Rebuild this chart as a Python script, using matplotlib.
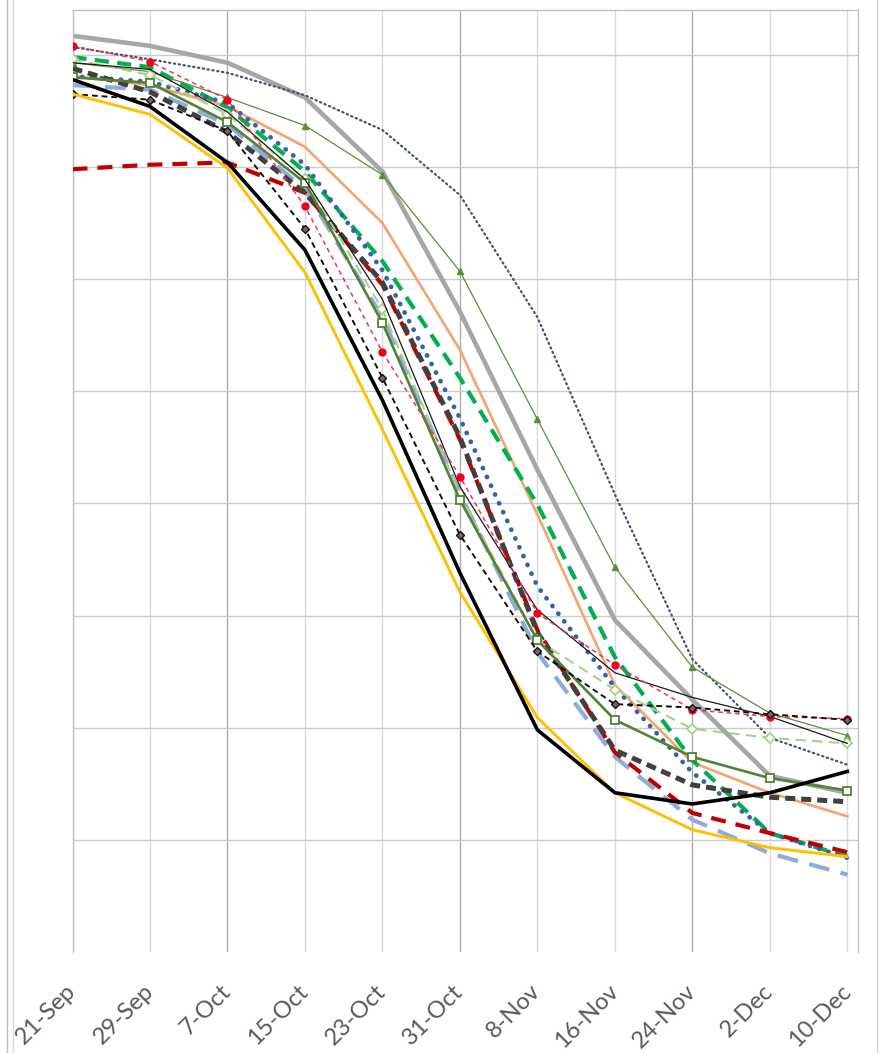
import matplotlib
matplotlib.use("Agg")
import matplotlib.pyplot as plt
from matplotlib.lines import Line2D

plt.rcParams['font.family'] = ['Lato', 'DejaVu Sans']

# ---- data ----
dates = ["21-Sep", "29-Sep", "7-Oct", "15-Oct", "23-Oct", "31-Oct",
         "8-Nov", "16-Nov", "24-Nov", "2-Dec", "10-Dec"]
days = [0, 8, 16, 24, 32, 40, 48, 56, 64, 72, 80]

s_gray_thick   = [81.7, 80.8, 79.3, 76.2, 69.6, 57.1, 43.0, 29.6, 22.5, 15.7, 14.2]
s_slate_dot    = [80.7, 79.6, 78.4, 76.4, 73.3, 67.5, 56.6, 40.8, 26.1, 19.1, 16.7]
s_red_thin     = [80.8, 79.4, 76.0, 66.5, 53.5, 42.4, 30.2, 25.6, 21.6, 21.0, 20.8]
s_green_dash   = [79.8, 78.9, 75.3, 69.6, 61.6, 51.2, 39.9, 26.3, 17.1, 10.6, 8.5]
s_olive_tri    = [79.3, 78.5, 76.2, 73.7, 69.3, 60.7, 47.5, 34.3, 25.4, 21.3, 19.3]
s_orange       = [78.1, 77.3, 75.4, 71.8, 65.0, 53.7, 39.0, 23.8, 16.9, 14.2, 12.1]
s_blue_dot     = [78.1, 77.6, 75.7, 70.2, 60.8, 47.6, 32.6, 23.6, 16.0, 10.6, 8.4]
s_dgray_dash   = [78.8, 76.7, 73.1, 67.7, 59.7, 45.9, 28.5, 18.0, 14.9, 13.8, 13.4]
s_red_dash     = [69.8, 70.2, 70.4, 67.7, 59.5, 45.7, 28.7, 17.8, 12.4, 10.6, 8.9]
s_green_sq     = [78.0, 77.5, 74.0, 68.6, 56.1, 40.3, 27.8, 20.7, 17.4, 15.5, 14.4]
s_lblue_dash   = [77.3, 76.9, 73.8, 68.0, 56.6, 40.9, 26.7, 17.4, 11.8, 8.8, 6.9]
s_black_thick  = [77.8, 75.4, 70.4, 62.6, 49.2, 33.8, 19.8, 14.2, 13.2, 14.2, 16.1]
s_yellow       = [76.5, 74.7, 69.9, 60.6, 46.6, 32.1, 20.9, 14.2, 10.9, 9.3, 8.5]
s_black_dash   = [76.5, 76.0, 73.2, 64.5, 51.2, 37.2, 26.8, 22.1, 21.8, 21.2, 20.7]
s_black_thin   = [79.3, 78.7, 74.9, 68.9, 58.2, 41.5, 30.5, 24.9, 22.7, 21.0, 18.6]
s_lgreen_dash  = [79.6, 78.2, 74.7, 68.9, 57.3, 40.8, 27.8, 23.4, 19.9, 19.1, 18.6]

W, H = 888, 1053
fig = plt.figure(figsize=(W / 100, H / 100), dpi=100)
left, right, top, bottom = 72.5, 858, 10, 952
ax = fig.add_axes([left / W, 1 - bottom / H, (right - left) / W, (bottom - top) / H])

ax.set_xlim(0, 81.1)
ax.set_ylim(0, 84.0)

# grid
ax.set_yticks(range(10, 90, 10))
ax.set_yticklabels([])
ax.set_xticks(days)
ax.set_xticklabels(dates)
ax.tick_params(axis='both', length=0)
ax.yaxis.grid(True, color='#CBCBCB', lw=1.0)
ax.xaxis.grid(True, color='#D9D9D9', lw=1.0)
for i in (2, 5, 8):
    ax.get_xgridlines()[i].set_color('#ADADAD')
ax.set_axisbelow(True)
for sp in ('top', 'left', 'right'):
    ax.spines[sp].set_color('#BFBFBF')
    ax.spines[sp].set_linewidth(1.0)
ax.spines['bottom'].set_visible(False)

for lab in ax.get_xticklabels():
    lab.set_rotation(45)
    lab.set_rotation_mode('anchor')
    lab.set_ha('right')
    lab.set_va('center')
    lab.set_fontsize(17)
    lab.set_color('#595959')
ax.tick_params(axis='x', pad=26)

x = days
# series
ax.plot(x, s_gray_thick, color='#A6A6A6', lw=3.3, solid_joinstyle='round', zorder=2)
ax.plot(x, s_slate_dot, color='#44546A', lw=1.6, linestyle=(0, (0.6, 1.6)),
        dash_capstyle='round', zorder=3)
ax.plot(x, s_orange, color='#F4A46E', lw=1.9, zorder=3)
ax.plot(x, s_olive_tri, color='#5E8C3C', lw=0.9, marker='^', ms=5,
        mfc='#5E8C3C', mec='#5E8C3C', zorder=4)
ax.plot(x, s_green_dash, color='#00B050', lw=3.0, linestyle=(0, (3.4, 2.0)), zorder=3)
ax.plot(x, s_blue_dot, color='#3763A6', lw=3.4, linestyle=(0, (0.05, 2.0)),
        dash_capstyle='round', zorder=3)
ax.plot(x, s_lblue_dash, color='#8FAADC', lw=3.0, linestyle=(0, (5.0, 2.8)), zorder=3)
ax.plot(x, s_red_dash, color='#C00000', lw=3.0, linestyle=(0, (3.6, 2.4)), zorder=3)
ax.plot(x, s_dgray_dash, color='#404040', lw=3.6, linestyle=(0, (2.0, 1.2)), zorder=3)
ax.plot(x, s_lgreen_dash, color='#A9D18E', lw=1.5, linestyle=(0, (5, 3)), marker='D',
        ms=5, mfc='white', mec='#A9D18E', mew=1.3, zorder=4)
ax.plot(x, s_green_sq, color='#548235', lw=1.9, marker='s', ms=6, mfc='white',
        mec='#548235', mew=1.3, zorder=4)
ax.plot(x, s_black_thin, color='#1A1A1A', lw=0.9, zorder=4)
ax.plot(x, s_red_thin, color='#F0325A', lw=1.1, linestyle=(0, (3, 2.5)), marker='o',
        ms=5, mfc='#F00020', mec='#F00020', zorder=4)
ax.plot(x, s_black_dash, color='#111111', lw=1.4, linestyle=(0, (3, 2)), marker='D',
        ms=4.5, mfc='#7F6060', mec='#111111', mew=1.0, zorder=4)
ax.plot(x, s_yellow, color='#FFC000', lw=2.1, zorder=4)
ax.plot(x, s_black_thick, color='#000000', lw=2.6, zorder=5)

# outer frame lines of the original chart box
for xp, c in ((7, '#BDBDBD'), (13, '#D6D6D6'), (877, '#D0D0D0')):
    fig.add_artist(Line2D([xp / W, xp / W], [0, 1], color=c, lw=1.0,
                          transform=fig.transFigure))

fig.savefig('out.png', dpi=100)
